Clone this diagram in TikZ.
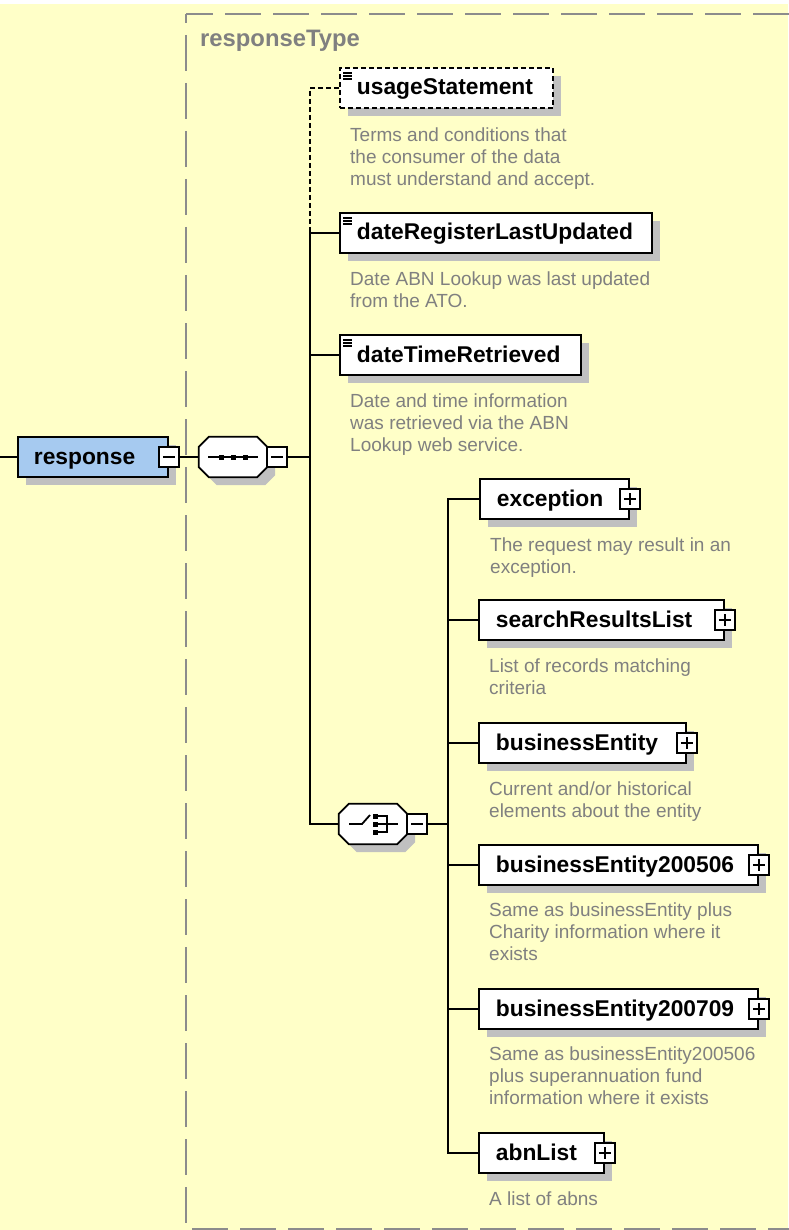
\documentclass[tikz,border=0pt]{standalone}
\usepackage{fontspec}
\setmainfont{Liberation Sans}
\usetikzlibrary{shadows}
\pgfdeclarelayer{back}
\pgfdeclarelayer{wires}
\pgfsetlayers{back,wires,main}
\definecolor{bgyellow}{RGB}{255,255,200}
\definecolor{framegray}{RGB}{140,140,140}
\definecolor{descgray}{RGB}{128,128,128}
\definecolor{shadowgray}{RGB}{192,192,192}
\definecolor{elemblue}{RGB}{166,202,240}
\newcommand{\labfont}{\fontsize{22.8pt}{27pt}\selectfont\bfseries}
\newcommand{\descfont}{\fontsize{19pt}{22pt}\selectfont}
\newcommand{\typefont}{\fontsize{23.8pt}{28pt}\selectfont\bfseries}
\begin{document}
\begin{tikzpicture}[x=1pt,y=-1pt,
  conn/.style={line width=1.8pt, draw=black},
  dconn/.style={conn, dash pattern=on 5pt off 3pt},
  shad/.style={drop shadow={shadow xshift=8pt, shadow yshift=-8pt, fill=shadowgray, opacity=1}},
  elem/.style={shad, draw=black, line width=1.8pt, fill=white, anchor=west,
    minimum height=40pt, inner xsep=17pt, inner ysep=0pt, text height=16pt,
    text depth=2pt, align=left, font=\labfont},
  desc/.style={anchor=north west, inner sep=0pt, align=left, font=\descfont, text=descgray},
  pmbox/.style={draw=black, line width=1.5pt, fill=white, minimum width=20pt,
    minimum height=20pt, inner sep=0pt},
  minusbox/.style={pmbox, path picture={\draw[line width=1.5pt]
    ([xshift=4pt]path picture bounding box.west) -- ([xshift=-4pt]path picture bounding box.east);}},
  plusbox/.style={pmbox, path picture={\draw[line width=1.5pt]
    ([xshift=4pt]path picture bounding box.west) -- ([xshift=-4pt]path picture bounding box.east)
    ([yshift=-4pt]path picture bounding box.north) -- ([yshift=4pt]path picture bounding box.south);}},
  octo/.style={shad, draw=black, fill=white, line width=1.8pt},
  icon/.style={line width=1.2pt, draw=black},
  holder/.style={draw=none, minimum width=68pt, minimum height=40pt, inner sep=0pt}
]
\useasboundingbox (0,0) rectangle (788,1230);
\begin{pgfonlayer}{back}
  \fill[bgyellow] (0,0) rectangle (788,1230);
  \fill[white] (0,0) rectangle (788,4);
  \draw[framegray, line width=2pt, dash pattern=on 36pt off 12pt, dash phase=9pt] (186,14) -- (790,14);
  \draw[framegray, line width=2pt, dash pattern=on 36pt off 12pt, dash phase=27pt] (186,14) -- (186,1229);
  \draw[framegray, line width=2pt, dash pattern=on 36pt off 12pt, dash phase=42pt] (186,1229) -- (790,1229);
\end{pgfonlayer}

\node[anchor=base west, inner sep=0pt, font=\typefont, text=descgray] (typename) at (200,47) {responseType};

% root element
\coordinate (lend) at (0,457);
\node[elem, fill=elemblue, inner xsep=16pt, text width=118pt] (resp) at (17,457) {response};
\node[minusbox] (respm) at (resp.east) {};

% sequence compositor
\node[holder] (seq) at (233,457) {};
\draw[octo] ([xshift=10pt]seq.north west) -- ([xshift=-10pt]seq.north east) -- ([yshift=-10pt]seq.north east)
  -- ([yshift=10pt]seq.south east) -- ([xshift=-10pt]seq.south east) -- ([xshift=10pt]seq.south west)
  -- ([yshift=10pt]seq.south west) -- ([yshift=-10pt]seq.north west) -- cycle;
\draw[line width=1.8pt] (208,457) -- (258,457);
\fill (218.5,454.5) rectangle ++(5,5);
\fill (230.5,454.5) rectangle ++(5,5);
\fill (242.5,454.5) rectangle ++(5,5);
\node[minusbox] (seqm) at (277,457) {};

\coordinate (bus1) at (310,457);

% simple children
\node[elem, dash pattern=on 5pt off 3pt, text width=179pt] (usage) at (339,88) {usageStatement};
\draw[icon] (343,73) -- (352,73) (343,76) -- (352,76) (343,79) -- (352,79);
\node[desc] (usaged) at (350,125.6) {\strut Terms and conditions that\\the consumer of the data\\must understand and accept.};

\node[elem, text width=278pt] (dreg) at (339,233) {\mbox{dateRegisterLastUpdated}};
\draw[icon] (343,218) -- (352,218) (343,221) -- (352,221) (343,224) -- (352,224);
\node[desc] (dregd) at (350,269.6) {\strut Date ABN Lookup was last updated\\from the ATO.};

\node[elem, text width=207pt] (dtime) at (339,355) {dateTimeRetrieved};
\draw[icon] (343,340) -- (352,340) (343,343) -- (352,343) (343,346) -- (352,346);
\node[desc] (dtimed) at (350,391.6) {\strut Date and time information\\was retrieved via the ABN\\Lookup web service.};

% choice compositor
\node[holder] (ch) at (373,824) {};
\draw[octo] ([xshift=10pt]ch.north west) -- ([xshift=-10pt]ch.north east) -- ([yshift=-10pt]ch.north east)
  -- ([yshift=10pt]ch.south east) -- ([xshift=-10pt]ch.south east) -- ([xshift=10pt]ch.south west)
  -- ([yshift=10pt]ch.south west) -- ([yshift=-10pt]ch.north west) -- cycle;
\draw[line width=1.8pt] (349,824) -- (362,824) -- (370,815);
\fill (372.5,813.5) rectangle ++(5,5);
\fill (372.5,821.5) rectangle ++(5,5);
\fill (372.5,829.5) rectangle ++(5,5);
\draw[line width=1.6pt] (377,816) -- (387,816) -- (387,832) -- (377,832);
\draw[line width=1.6pt] (377,824) -- (398,824);
\node[minusbox] (chm) at (417,824) {};

\coordinate (bus2) at (448,824);

% complex children
\node[elem, text width=115pt] (exc) at (479,499) {exception};
\node[plusbox] (excp) at (exc.east) {};
\node[desc] (excd) at (490,535.6) {\strut The request may result in an\\exception.};

\node[elem, text width=211pt] (srl) at (478,620) {searchResultsList};
\node[plusbox] (srlp) at (srl.east) {};
\node[desc] (srld) at (489,656.6) {\strut List of records matching\\criteria};

\node[elem, text width=173pt] (be) at (478,743) {businessEntity};
\node[plusbox] (bep) at (be.east) {};
\node[desc] (bed) at (489,779.6) {\strut Current and/or historical\\elements about the entity};

\node[elem, text width=245pt] (besix) at (478,865) {businessEntity200506};
\node[plusbox] (besixp) at (besix.east) {};
\node[desc] (besixd) at (489,900.6) {\strut Same as businessEntity plus\\Charity information where it\\exists};

\node[elem, text width=245pt] (besev) at (478,1009) {businessEntity200709};
\node[plusbox] (besevp) at (besev.east) {};
\node[desc] (besevd) at (489,1044.6) {\strut Same as businessEntity200506\\plus superannuation fund\\information where it exists};

\node[elem, text width=91pt] (abn) at (478,1153) {abnList};
\node[plusbox] (abnp) at (abn.east) {};
\node[desc] (abnd) at (489,1189.6) {\strut A list of abns};

% connectors
\begin{pgfonlayer}{wires}
  \draw[conn] (lend) -- (resp.west);
  \draw[conn] (respm.east) -- (seq.west);
  \draw[conn] (seqm.east) -- (bus1);
  \draw[dconn] (usage.west) -| (dreg.west -| bus1);
  \draw[conn] (dreg.west) -| (bus1);
  \draw[conn] (dtime.west) -| (bus1);
  \draw[conn] (ch.west) -| (bus1);
  \draw[conn] (chm.east) -- (bus2);
  \draw[conn] (exc.west) -| (bus2);
  \draw[conn] (srl.west) -| (bus2);
  \draw[conn] (be.west) -| (bus2);
  \draw[conn] (besix.west) -| (bus2);
  \draw[conn] (besev.west) -| (bus2);
  \draw[conn] (abn.west) -| (bus2);
\end{pgfonlayer}
\end{tikzpicture}
\end{document}
